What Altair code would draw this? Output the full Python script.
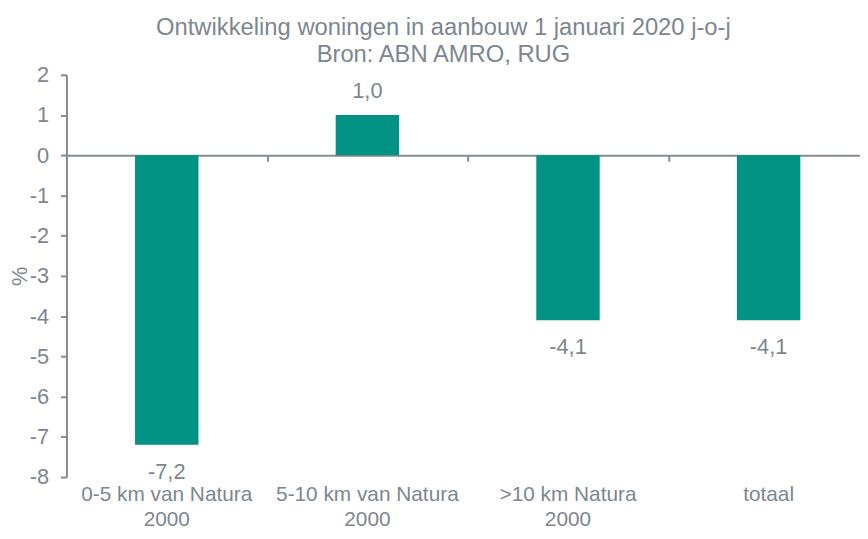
import altair as alt
import pandas as pd

categories = ["0-5 km van Natura 2000", "5-10 km van Natura 2000", ">10 km Natura 2000", "totaal"]
values = [-7.2, 1.0, -4.1, -4.1]
title_lines = ["Ontwikkeling woningen in aanbouw 1 januari 2020 j-o-j", "Bron: ABN AMRO, RUG"]
y_ticks = [-8, -7, -6, -5, -4, -3, -2, -1, 0, 1, 2]

df = pd.DataFrame({"cat": categories, "value": values})

GREEN = "#009283"
TEXT = "#7D868F"
LINE = "#848B93"
FONT = "Liberation Sans"

W, H = 801, 406
x_scale = alt.Scale(domain=categories, paddingInner=0, paddingOuter=0, range=[0, 810])
y_scale = alt.Scale(domain=[-8, 2], nice=False, zero=False)

base = alt.Chart(df).transform_calculate(
    label="replace(replace(format(datum.value, '.1f'), '.', ','), '\u2212', '-')"
)

bars = base.mark_bar(width=64, color=GREEN).encode(
    x=alt.X("cat:N", scale=x_scale, sort=categories,
            axis=alt.Axis(orient="bottom", title=None, labelAngle=0, domain=False, ticks=False,
                          tickSize=0, labelLimit=0,
                          labelExpr="split(replace(datum.value, ' 2000', '|2000'), '|')",
                          labelFont=FONT, labelFontSize=21, labelColor=TEXT,
                          labelPadding=7, labelLineHeight=25, labelBaseline="top")),
    y=alt.Y("value:Q", scale=y_scale,
            axis=alt.Axis(values=y_ticks, title="%", grid=False,
                          domainColor=LINE, domainWidth=2, tickColor=LINE, tickWidth=2, tickSize=6,
                          labelFont=FONT, labelFontSize=22, labelColor=TEXT, labelPadding=12,
                          labelExpr="replace(datum.label, '\u2212', '-')",
                          titleFont=FONT, titleFontSize=22, titleColor=TEXT, titleFontWeight="normal",
                          titleAngle=270, titleX=-47, titleY=203, titleAlign="center",
                          titleBaseline="middle")),
)

zero_axis = base.mark_point(opacity=0).encode(
    x=alt.X("cat:N", scale=x_scale, sort=categories,
            axis=alt.Axis(orient="bottom", title=None, labels=False, offset=-324.8, domain=True,
                          domainColor=LINE, domainWidth=2, ticks=True, tickBand="extent",
                          tickColor=LINE, tickWidth=2, tickSize=6)),
    y=alt.Y("value:Q", scale=y_scale),
)

neg_labels = base.transform_filter("datum.value < 0").mark_text(
    baseline="middle", dy=27, font=FONT, fontSize=22, color=TEXT
).encode(x=alt.X("cat:N", scale=x_scale, sort=categories, axis=None),
         y=alt.Y("value:Q", scale=y_scale), text="label:N")

pos_labels = base.transform_filter("datum.value >= 0").mark_text(
    baseline="middle", dy=-24, font=FONT, fontSize=22, color=TEXT
).encode(x=alt.X("cat:N", scale=x_scale, sort=categories, axis=None),
         y=alt.Y("value:Q", scale=y_scale), text="label:N")

chart = alt.layer(bars, zero_axis, neg_labels, pos_labels).resolve_axis(x="independent").properties(
    width=W, height=H,
    autosize=alt.AutoSizeParams(type="none"),
    padding={"left": 59, "top": 65, "right": 0, "bottom": 52},
    title=alt.TitleParams(title_lines, font=FONT, fontSize=24, fontWeight="normal", color=TEXT,
                          lineHeight=27, anchor="middle", frame="group", dx=-20, dy=32, offset=5,
                          baseline="bottom"),
).configure_view(stroke=None)

chart.save("out.html", embed_options={"renderer": "svg", "actions": False})
